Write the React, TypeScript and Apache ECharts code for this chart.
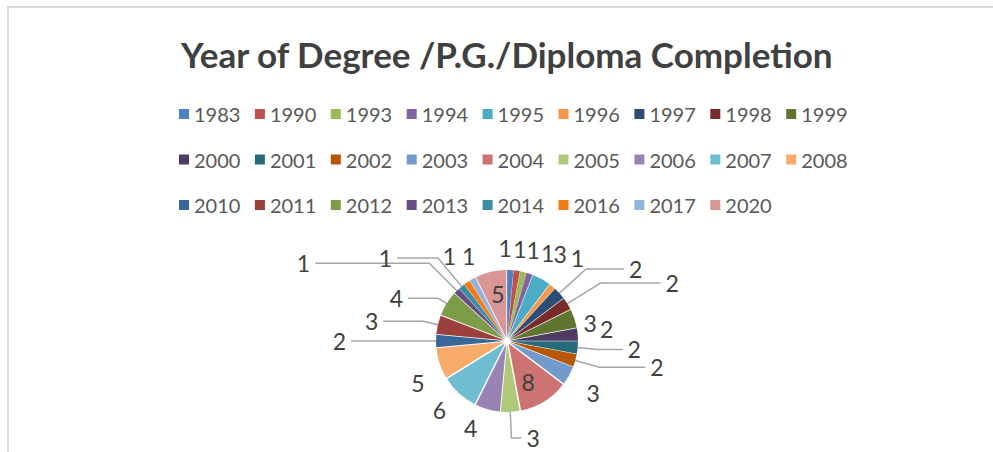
import React, { useEffect, useRef } from "react";
import * as echarts from "echarts";

const years = [
  "1983", "1990", "1993", "1994", "1995", "1996", "1997", "1998", "1999",
  "2000", "2001", "2002", "2003", "2004", "2005", "2006", "2007", "2008",
  "2010", "2011", "2012", "2013", "2014", "2016", "2017", "2020",
];
const counts = [
  1, 1, 1, 1, 3, 1, 2, 2, 3,
  2, 2, 2, 3, 8, 3, 4, 6, 5,
  2, 3, 4, 1, 1, 1, 1, 5,
];
const colors = [
  "#4F81BD", "#C0504D", "#9BBB59", "#8064A2", "#4BACC6", "#F79646", "#2C4D75", "#772C2A", "#5F7530",
  "#4D3B62", "#276A7C", "#B65708", "#729ACA", "#CD7371", "#AFC97A", "#9983B5", "#6FBDD1", "#F9AB6B",
  "#3A6799", "#9C403D", "#7D9C47", "#664F85", "#3C8DA3", "#F47B16", "#95B3D7", "#D99694",
];
const legendRows = [years.slice(0, 9), years.slice(9, 18), years.slice(18)];

// label styling (leader line lengths, inside labels, small nudges)
const leaderLines: Record<string, [number, number]> = {
  "1997": [36, 38], "1998": [39, 60], "2001": [20, 25], "2002": [25, 46], "2005": [26, 10],
  "2010": [30, 55], "2011": [15, 40], "2012": [10, 30], "2013": [39, 114], "2014": [37, 41],
};
const insideLabels = ["2004", "2020"];
const labelNudge: Record<string, [number, number]> = {
  "1983": [-11, 0], "1990": [-5, 0], "1994": [6, 0], "1995": [3, -6], "1996": [6, -11],
  "1999": [-10, 12], "2000": [2, -3], "2003": [0, 7], "2006": [-6, -2], "2008": [4, 12],
  "2016": [0, -8], "2017": [12, -4], "2004": [0, 7], "2020": [0, -8],
};

const FONT = "Lato, 'Liberation Sans', sans-serif";

export default function App() {
  const ref = useRef<HTMLDivElement>(null);
  useEffect(() => {
    if (!ref.current) return;
    const chart = echarts.init(ref.current, null, { renderer: "svg" });
    const data = years.map((y, i) => {
      const item: any = { name: y, value: counts[i], selected: true, itemStyle: { color: colors[i] } };
      if (leaderLines[y]) {
        item.label = { position: "outside", distance: 4, padding: [0, 0, 16, 0] };
        item.labelLine = { show: true, length: leaderLines[y][0], length2: leaderLines[y][1] };
      } else if (insideLabels.includes(y)) {
        item.label = { position: "inside" };
        item.labelLine = { show: false };
      }
      return item;
    });
    chart.setOption({
      animation: false,
      backgroundColor: "#ffffff",
      color: colors,
      title: {
        text: "Year of Degree /P.G./Diploma Completion",
        left: 176,
        top: 30,
        textStyle: { fontFamily: FONT, fontSize: 35, fontWeight: "bold", color: "#404040", lineHeight: 38 },
      },
      legend: legendRows.map((row, i) => ({
        data: row,
        orient: "horizontal",
        left: 179,
        top: 103 + i * 45.5,
        padding: 0,
        itemWidth: 10,
        itemHeight: 10,
        itemGap: 14.5,
        icon: "rect",
        selectedMode: false,
        textStyle: { fontFamily: FONT, fontSize: 20, color: "#595959", lineHeight: 22 },
      })),
      graphic: [
        {
          type: "rect",
          shape: { x: 8, y: 7, width: 1100, height: 600 },
          style: { fill: "none", stroke: "#d9d9d9", lineWidth: 2 },
          silent: true,
        },
      ],
      series: [
        {
          type: "pie",
          center: [507, 341],
          radius: 68,
          startAngle: 90,
          clockwise: true,
          selectedMode: "multiple",
          selectedOffset: 3,
          avoidLabelOverlap: false,
          emphasis: { disabled: true },
          label: {
            show: true,
            position: "outside",
            distance: 0,
            formatter: "{c}",
            fontFamily: FONT,
            fontSize: 23,
            color: "#404040",
          },
          labelLine: {
            show: false,
            length: 22,
            length2: 0,
            lineStyle: { color: "#a6a6a6", width: 1.5 },
          },
          labelLayout: (p: any) => {
            const y = years[p.dataIndex];
            if (leaderLines[y]) return {};
            const n = labelNudge[y] || [0, 0];
            return { align: "center", dx: n[0], dy: n[1] };
          },
          data,
        },
      ],
    });
    return () => chart.dispose();
  }, []);
  return <div ref={ref} style={{ position: "fixed", left: 0, top: 0, width: 993, height: 452 }} />;
}
